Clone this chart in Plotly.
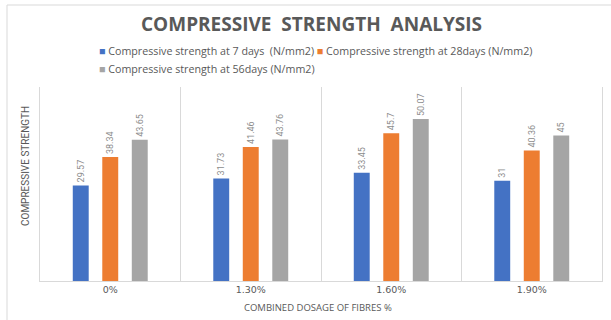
import plotly.graph_objects as go

# Fibre dosages (categories) and compressive strength results in N/mm2
dosages = ["0%", "1.30%", "1.60%", "1.90%"]
strength_7d = [29.57, 31.73, 33.45, 31]
strength_28d = [38.34, 41.46, 45.7, 40.36]
strength_56d = [43.65, 43.76, 50.07, 45]

series_names = [
    "Compressive strength at 7 days  (N/mm2)",
    "Compressive strength at 28days (N/mm2)",
    "Compressive strength at 56days (N/mm2)",
]
series_values = [strength_7d, strength_28d, strength_56d]
series_colors = ["#4472C4", "#ED7D31", "#A5A5A5"]

TEXT = "#595959"
LABEL = "#8C8C8C"
GRID = "#D9D9D9"

fig = go.Figure()
for name, vals, col in zip(series_names, series_values, series_colors):
    fig.add_trace(go.Bar(
        x=dosages, y=vals, name=name,
        marker=dict(color=col, line=dict(width=0)),
        text=[str(v) for v in vals],
        textposition="outside", textangle=-90, constraintext="none",
        textfont=dict(family="Liberation Sans Narrow, Roboto, sans-serif", size=9, color=LABEL),
        cliponaxis=False, showlegend=False,
    ))

# Plot-area pixel geometry used to place the surrounding text
W, H = 611, 320
L, R, T, B = 40, 9, 87, 39
pw, ph = W - L - R, H - T - B


def px_x(x):
    return (x - L) / pw


def px_y(y):
    return (H - B - y) / ph


annotations = [
    dict(text="COMPRESSIVE&nbsp; STRENGTH&nbsp; ANALYSIS", x=px_x(311), y=px_y(24),
         xref="paper", yref="paper", xanchor="center", yanchor="middle", showarrow=False,
         font=dict(family="Open Sans", size=19, color=TEXT, weight="bold")),
    dict(text="COMPRESSIVE STRENGTH", x=px_x(25), y=px_y(166), textangle=-90,
         xref="paper", yref="paper", xanchor="center", yanchor="middle", showarrow=False,
         font=dict(family="Liberation Sans Narrow, Roboto, sans-serif", size=10, color=TEXT)),
    dict(text="COMBINED DOSAGE OF FIBRES %", x=px_x(318), y=px_y(307),
         xref="paper", yref="paper", xanchor="center", yanchor="middle", showarrow=False,
         font=dict(family="Open Sans", size=9.5, color=TEXT)),
]

# Legend rows: two entries on the first line, one on the second
def entry(i):
    return (f"<span style='color:{series_colors[i]}'>■</span> "
            + series_names[i].replace("  ", "&nbsp; "))


legend_rows = [(entry(0) + " " + entry(1), 51), (entry(2), 69)]
for txt, ypx in legend_rows:
    annotations.append(dict(text=txt, x=px_x(97), y=px_y(ypx), xref="paper", yref="paper",
                            xanchor="left", yanchor="middle", showarrow=False,
                            font=dict(family="Open Sans", size=10.7, color=TEXT)))

# Chart frame (left and top edges)
fx, fy = px_x(7), px_y(5)
shapes = [
    dict(type="line", xref="paper", yref="paper", x0=fx, x1=fx, y0=fy, y1=px_y(330),
         line=dict(color=GRID, width=1)),
    dict(type="line", xref="paper", yref="paper", x0=fx, x1=px_x(611), y0=fy, y1=fy,
         line=dict(color=GRID, width=1)),
]

fig.update_layout(
    width=W, height=H,
    margin=dict(l=L, r=R, t=T, b=B),
    paper_bgcolor="white", plot_bgcolor="white",
    barmode="group", bargap=0.37, bargroupgap=0.46,
    annotations=annotations, shapes=shapes,
    showlegend=False,
    xaxis=dict(type="category", tickson="boundaries", range=[-0.5, 3.5],
               showgrid=True, gridcolor=GRID, gridwidth=1,
               showline=True, linecolor=GRID, linewidth=1, ticks="",
               tickfont=dict(family="DejaVu Sans", size=9.5, color=TEXT)),
    yaxis=dict(range=[0, 60], showgrid=False, zeroline=False, showticklabels=False,
               showline=True, mirror=True, linecolor=GRID, linewidth=1, ticks=""),
)

fig.write_html("out.html")
